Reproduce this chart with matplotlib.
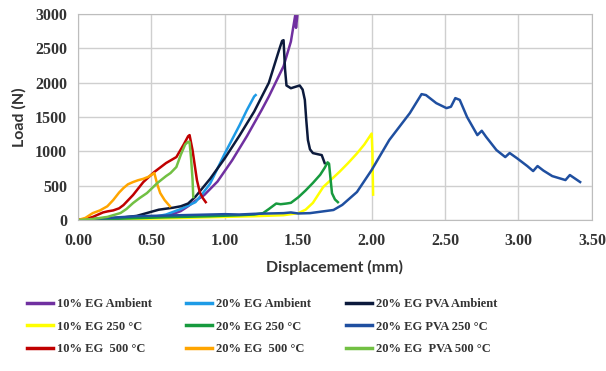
import matplotlib
matplotlib.use("Agg")
import matplotlib.pyplot as plt
from matplotlib.ticker import FormatStrFormatter, MultipleLocator

# ---- data (displacement mm, load N) ----
eg10_amb_x = [0, 0.1, 0.2, 0.3, 0.4, 0.5, 0.6, 0.65, 0.7, 0.75, 0.8, 0.86, 0.95, 1.05, 1.15, 1.25, 1.3, 1.4, 1.45, 1.48, 1.485, 1.49, 1.495]
eg10_amb_y = [0, 5, 10, 15, 25, 35, 60, 90, 130, 200, 280, 364, 560, 870, 1220, 1600, 1800, 2240, 2600, 2990, 2800, 2900, 3000]

eg20_amb_x = [0, 0.2, 0.4, 0.5, 0.6, 0.7, 0.75, 0.8, 0.85, 0.9, 1.0, 1.1, 1.15, 1.2, 1.21]
eg20_amb_y = [0, 10, 20, 40, 80, 160, 210, 260, 390, 530, 970, 1380, 1600, 1800, 1820]

pva_amb_x = [0, 0.1, 0.2, 0.3, 0.4, 0.45, 0.5, 0.55, 0.6, 0.65, 0.7, 0.75, 0.8, 0.85, 0.9, 1.0, 1.1, 1.2, 1.3, 1.37, 1.39, 1.40, 1.41, 1.42, 1.45, 1.48, 1.51, 1.53, 1.545, 1.555, 1.566, 1.58, 1.60, 1.63, 1.66, 1.68]
pva_amb_y = [0, 10, 20, 35, 60, 90, 120, 150, 165, 180, 200, 240, 340, 470, 600, 900, 1230, 1580, 2000, 2480, 2610, 2620, 2200, 1960, 1920, 1940, 1960, 1900, 1750, 1450, 1165, 1030, 975, 960, 946, 830]

eg10_250_x = [0, 0.3, 0.6, 0.9, 1.2, 1.4, 1.5, 1.55, 1.6, 1.67, 1.72, 1.78, 1.84, 1.9, 1.95, 2.0, 2.005, 2.01]
eg10_250_y = [0, 10, 25, 40, 55, 70, 100, 150, 250, 480, 580, 700, 830, 970, 1100, 1260, 1000, 370]

eg20_250_x = [0, 0.3, 0.6, 0.9, 1.1, 1.2, 1.26, 1.3, 1.35, 1.38, 1.42, 1.45, 1.5, 1.55, 1.6, 1.65, 1.68, 1.70, 1.71, 1.72, 1.73, 1.75, 1.77]
eg20_250_y = [0, 20, 40, 55, 70, 80, 100, 160, 240, 230, 240, 250, 330, 430, 540, 660, 760, 840, 820, 600, 390, 300, 260]

pva_250_x = [0, 0.2, 0.4, 0.6, 0.8, 0.9, 1.0, 1.1, 1.2, 1.3, 1.4, 1.45, 1.5, 1.58, 1.65, 1.74, 1.8, 1.9, 2.0, 2.12, 2.26, 2.34, 2.37, 2.44, 2.51, 2.54, 2.57, 2.60, 2.65, 2.72, 2.75, 2.78, 2.85, 2.91, 2.94, 2.99, 3.06, 3.10, 3.13, 3.17, 3.23, 3.32, 3.35, 3.42]
pva_250_y = [0, 30, 55, 65, 75, 80, 85, 80, 90, 95, 100, 110, 95, 100, 120, 146, 220, 408, 728, 1165, 1557, 1834, 1820, 1703, 1630, 1650, 1776, 1750, 1500, 1237, 1300, 1210, 1019, 917, 976, 900, 786, 713, 786, 720, 640, 582, 655, 553]

eg10_500_x = [0, 0.05, 0.1, 0.17, 0.2, 0.24, 0.28, 0.31, 0.375, 0.445, 0.52, 0.6, 0.67, 0.72, 0.75, 0.76, 0.78, 0.81, 0.83, 0.85, 0.87]
eg10_500_y = [0, 15, 44, 110, 125, 140, 170, 218, 364, 553, 700, 830, 917, 1100, 1220, 1237, 1019, 582, 400, 320, 260]

eg20_500_x = [0, 0.05, 0.1, 0.15, 0.2, 0.24, 0.28, 0.31, 0.34, 0.375, 0.41, 0.445, 0.48, 0.52, 0.54, 0.56, 0.59, 0.626]
eg20_500_y = [0, 30, 100, 140, 200, 291, 400, 466, 520, 553, 580, 600, 630, 684, 520, 393, 290, 200]

pva_500_x = [0, 0.1, 0.2, 0.29, 0.33, 0.375, 0.42, 0.47, 0.54, 0.6, 0.63, 0.67, 0.7, 0.73, 0.75, 0.76, 0.77, 0.78, 0.785]
pva_500_y = [0, 15, 45, 102, 160, 247, 320, 393, 538, 640, 684, 772, 950, 1100, 1140, 1135, 900, 600, 335]

series = [
    ("10% EG Ambient", eg10_amb_x, eg10_amb_y, "#7030A0"),
    ("20% EG Ambient", eg20_amb_x, eg20_amb_y, "#1E9BE6"),
    ("20% EG PVA Ambient", pva_amb_x, pva_amb_y, "#0C1A3C"),
    ("10% EG 250 °C", eg10_250_x, eg10_250_y, "#FFFF00"),
    ("20% EG 250 °C", eg20_250_x, eg20_250_y, "#179A3E"),
    ("20% EG PVA 250 °C", pva_250_x, pva_250_y, "#1F4FA0"),
    ("10% EG  500 °C", eg10_500_x, eg10_500_y, "#C00000"),
    ("20% EG  500 °C", eg20_500_x, eg20_500_y, "#FFA500"),
    ("20% EG  PVA 500 °C", pva_500_x, pva_500_y, "#72C043"),
]

fig = plt.figure(figsize=(6.06, 3.71), dpi=100)
ax = fig.add_axes([0.1287, 0.407, 0.848, 0.555])

handles = []
for label, xs, ys, c in series:
    h, = ax.plot(xs, ys, color=c, lw=1.8, label=label, solid_joinstyle="round")
    handles.append(h)

ax.set_xlim(0, 3.5)
ax.set_ylim(0, 3000)
ax.xaxis.set_major_locator(MultipleLocator(0.5))
ax.yaxis.set_major_locator(MultipleLocator(500))
ax.xaxis.set_major_formatter(FormatStrFormatter("%.2f"))
ax.grid(True, color="#CFCFCF", lw=1)
ax.set_axisbelow(True)
for s in ax.spines.values():
    s.set_color("#BDBDBD")
ax.tick_params(axis="x", length=0, pad=9)
ax.tick_params(axis="y", length=0, pad=8)
for t in ax.get_xticklabels() + ax.get_yticklabels():
    t.set_fontfamily("Liberation Serif")
    t.set_fontweight("bold")
    t.set_fontsize(11.5)
    t.set_color("#333333")

ax.set_xlabel("Displacement (mm)", fontfamily="Lato", fontweight="bold", fontsize=11.5, color="#333333", labelpad=8)
ax.set_ylabel("Load (N)", fontfamily="Lato", fontweight="bold", fontsize=11.5, color="#333333", labelpad=6)

order = [0, 3, 6, 1, 4, 7, 2, 5, 8]
leg = fig.legend(handles=[handles[i] for i in order], loc="upper left",
                 bbox_to_anchor=(0.036, 0.21), ncol=3,
                 frameon=False, handlelength=2.1, handletextpad=0.3, columnspacing=2.75,
                 labelspacing=0.85, borderaxespad=0,
                 prop={"family": "Liberation Serif", "weight": "bold", "size": 9})
for t in leg.get_texts():
    t.set_color("#333333")
for l in leg.get_lines():
    l.set_linewidth(2.5)

fig.savefig("out.png", dpi=100)
